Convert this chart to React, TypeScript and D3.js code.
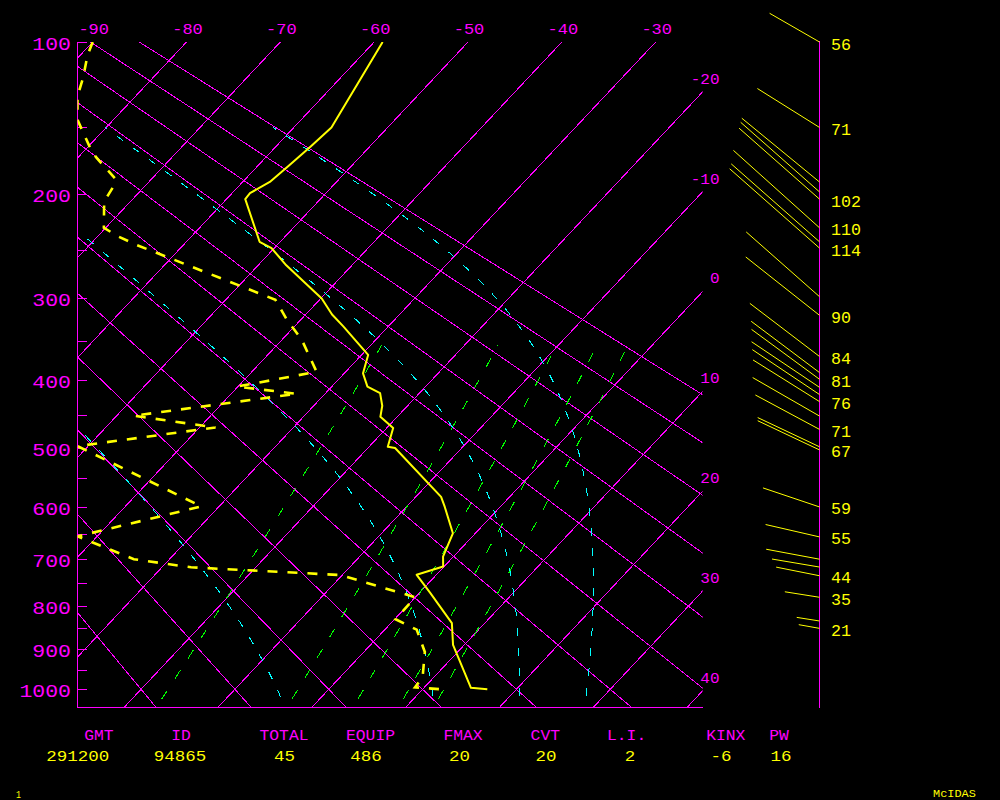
import React from "react";
import * as d3 from "d3";

// ---------------- data ----------------
const pressureLabels = [100, 200, 300, 400, 500, 600, 700, 800, 900, 1000];
const pressureTickLevels = [100, 150, 200, 250, 300, 350, 400, 450, 500, 550, 600, 650, 700, 750, 800, 850, 900, 950, 1000];
const isothermValues = [-90, -80, -70, -60, -50, -40, -30, -20, -10, 0, 10, 20, 30, 40];
const topLabelTemps = [-90, -80, -70, -60, -50, -40, -30];
const rightLabelTemps = [-20, -10, 0, 10, 20, 30, 40];
const dryAdiabatThetas = [-20, -10, 0, 10, 20, 30, 40, 50, 60, 70, 80, 90];
const mixingRatioValues = [1, 3, 5, 7, 9];
const moistAdiabatT1000 = [-5.5, 11, 20.3, 27.5];

// temperature sounding (hPa, degC)
const tempP = [100, 150, 163, 177, 190, 199, 204, 242, 248, 265, 300, 318, 332, 367, 391, 409, 418, 436, 452, 469, 498, 500, 582, 600, 649, 695, 715, 732, 771, 838, 889, 996, 1000];
const tempT = [-59.1, -56.0, -56.3, -56.7, -57.1, -58.1, -58.0, -52.2, -50.3, -47.0, -39.9, -37.2, -34.8, -29.3, -28.0, -26.2, -24.2, -22.7, -21.8, -19.3, -18.0, -17.1, -7.3, -5.9, -2.4, -1.1, -0.1, -2.1, 1.2, 6.5, 8.8, 15.0, 16.9];

// dewpoint sounding (hPa, degC)
const dewP = [100, 107, 119.5, 130, 145, 164.5, 171, 187, 194, 206, 229, 237, 245, 301.5, 324, 348, 389, 409, 419, 450.5, 468, 497, 599, 655, 700, 716.5, 732.5, 780, 829, 853, 906, 969, 995, 1000];
const dewT = [-90, -89.2, -87.4, -86.2, -87, -79.6, -78.1, -74.0, -73.3, -72.8, -70.2, -67.8, -65.0, -44.7, -41.5, -37.9, -33.1, -40.1, -33.0, -48.2, -38.3, -51.5, -31.9, -43, -33.8, -26.9, -10.2, 0.0, 0.1, 3.4, 6.5, 8.8, 9.0, 12.0];

// winds (hPa, direction deg, speed)
const windP = [100, 150, 190, 198, 204, 229, 242, 248, 298, 319, 369, 390, 399, 410, 420, 430, 451, 471, 498, 503, 600, 656, 700, 716, 734, 780, 833, 850];
const windDir = [297, 299, 306, 308, 308, 308.5, 308, 308, 308, 305, 304, 303.6, 303, 300.7, 300.6, 299, 297, 295.4, 292.7, 292.7, 286.6, 281.5, 279.4, 278.5, 280, 278, 278, 279];
const windSpd = [56, 71, 96, 100, 102, 110, 112, 114, 93, 90, 84, 82, 81, 79, 78, 76, 75, 71, 67, 67, 59, 55, 54, 48, 44, 35, 23, 21];

const statHeaders = ["GMT", "ID", "TOTAL", "EQUIP", "FMAX", "CVT", "L.I.", "KINX", "PW"];
const statValues = ["291200", "94865", "45", "486", "20", "20", "2", "-6", "16"];

// ---------------- layout ----------------
const W = 1000, H = 800;
const LEFT = 77.5, RIGHT = 702.5, TOP = 42, BOTTOM = 707.5;
const KAPPA = 0.2857;
const SKEW = 0.94;
const WIND_X = 819.5;
const headerX = [98.9, 181, 284, 370.5, 463, 545.3, 626.6, 725.8, 779];
const valueX = [77.8, 180, 284.5, 366, 459.5, 546, 630, 721, 781];

const MAG = "#ff00ff", YEL = "#ffff00", CYA = "#00ffff", GRN = "#00ff00";
const FONT = "'Liberation Mono', 'DejaVu Sans Mono', monospace";

const yScale = d3.scalePow().exponent(KAPPA).domain([100, 1000]).range([42, 689.3]);
const tScale = d3.scaleLinear().domain([-90, -30]).range([92.7, 655.7]);
const xOf = (T: number, p: number) => tScale(T) - SKEW * (yScale(p) - TOP);
const line = d3.line<[number, number]>();

function satVap(Tc: number) {
  return 6.112 * Math.exp((17.67 * Tc) / (Tc + 243.5));
}
function dewFromMix(w: number, p: number) {
  const e = (w * p) / (622 + w);
  const l = Math.log(e / 6.112);
  return (243.5 * l) / (17.67 - l);
}
function moistRate(p: number, Tk: number) {
  const Rd = 287.04, Cp = 1005.7, Lv = 2.39e6, eps = 0.622;
  const es = satVap(Tk - 273.15);
  const rs = (eps * es) / (p - es);
  return (Rd * Tk + Lv * rs) / (p * (Cp + (Lv * Lv * rs * eps) / (Rd * Tk * Tk)));
}
function moistCurve(T1000: number): [number, number][] {
  const up: [number, number][] = [];
  let T = T1000 + 273.15;
  for (let p = 1000; p > 150; p -= 1) {
    up.push([p, T - 273.15]);
    const k1 = moistRate(p, T);
    const k2 = moistRate(p - 0.5, T - 0.5 * k1);
    T = T - k2;
  }
  up.push([150, T - 273.15]);
  const down: [number, number][] = [];
  T = T1000 + 273.15;
  for (let p = 1000; p < 1070; p += 1) {
    const k1 = moistRate(p, T);
    const k2 = moistRate(p + 0.5, T + 0.5 * k1);
    T = T + k2;
    down.push([p + 1, T - 273.15]);
  }
  return [...down.reverse(), ...up];
}

const Txt = (props: any) => (
  <text
    x={props.x}
    y={props.y}
    textAnchor={props.anchor || "start"}
    fontSize={props.size}
    fill={props.fill}
    fontFamily={FONT}
    textLength={props.len}
    lengthAdjust="spacingAndGlyphs"
  >
    {props.children}
  </text>
);

export default function App() {
  const isoPaths = isothermValues.map((T) =>
    line([[xOf(T, 100), yScale(100)], [xOf(T, 1100), yScale(1100)]])
  );
  const dryPaths = dryAdiabatThetas.map((th) => {
    const Tp = (p: number) => (th + 273.15) * Math.pow(p / 1000, KAPPA) - 273.15;
    return line([[xOf(Tp(60), 60), yScale(60)], [xOf(Tp(1100), 1100), yScale(1100)]]);
  });
  const mixPaths = mixingRatioValues.map((w) =>
    line(d3.range(1025, 354, -5).map((p) => [xOf(dewFromMix(w, p), p), yScale(p)] as [number, number]))
  );
  const moistPaths = moistAdiabatT1000.map((t0) =>
    line(moistCurve(t0).map(([p, T]) => [xOf(T, p), yScale(p)] as [number, number]))
  );
  const tempPath = line(tempP.map((p, i) => [xOf(tempT[i], p), yScale(p)] as [number, number]));
  const dewPath = line(dewP.map((p, i) => [Math.max(LEFT, xOf(dewT[i], p)), yScale(p)] as [number, number]));

  // winds
  const sticks = windP.map((p, i) => {
    const y = yScale(p);
    const a = (windDir[i] * Math.PI) / 180;
    return {
      x1: WIND_X + windSpd[i] * Math.sin(a),
      y1: y - windSpd[i] * Math.cos(a) * 1.13,
      y,
    };
  });
  // label selection bottom-up with minimum spacing
  const order = windP.map((_, i) => i).sort((a, b) => sticks[b].y - sticks[a].y);
  const labeled: number[] = [];
  let lastY = Infinity;
  order.forEach((i) => {
    if (lastY - sticks[i].y >= 19.5) {
      labeled.push(i);
      lastY = sticks[i].y;
    }
  });

  return (
    <svg
      width={W}
      height={H}
      style={{ position: "absolute", left: 0, top: 0, background: "#000", display: "block" }}
    >
      <rect x={0} y={0} width={W} height={H} fill="#000" />
      <defs>
        <clipPath id="plotClip">
          <rect x={LEFT} y={TOP} width={RIGHT - LEFT} height={BOTTOM - TOP} />
        </clipPath>
      </defs>

      <g clipPath="url(#plotClip)" fill="none" shapeRendering="crispEdges">
        {isoPaths.map((d, i) => (
          <path key={"iso" + i} d={d!} stroke={MAG} strokeWidth={1} />
        ))}
        {dryPaths.map((d, i) => (
          <path key={"dry" + i} d={d!} stroke={MAG} strokeWidth={1} />
        ))}
        {mixPaths.map((d, i) => (
          <path key={"mix" + i} d={d!} stroke={GRN} strokeWidth={1} strokeDasharray="10,14" />
        ))}
        {moistPaths.map((d, i) => (
          <path key={"moist" + i} d={d!} stroke={CYA} strokeWidth={1} strokeDasharray="8,12" />
        ))}
      </g>

      {/* axes */}
      <g shapeRendering="crispEdges" stroke={MAG} strokeWidth={1}>
        <line x1={LEFT} x2={LEFT} y1={TOP} y2={BOTTOM} />
        <line x1={LEFT} x2={RIGHT} y1={BOTTOM} y2={BOTTOM} />
        {pressureTickLevels.map((p) => (
          <line key={"tk" + p} x1={LEFT} x2={LEFT + 9} y1={Math.round(yScale(p)) + 0.5} y2={Math.round(yScale(p)) + 0.5} />
        ))}
        <line x1={WIND_X} x2={WIND_X} y1={yScale(100) - 1} y2={BOTTOM} />
      </g>

      {/* soundings */}
      <g fill="none" clipPath="url(#plotClip)">
        <path d={dewPath!} stroke={YEL} strokeWidth={2.6} strokeDasharray="10,10" />
        <path d={tempPath!} stroke={YEL} strokeWidth={2} strokeLinejoin="round" />
      </g>

      {/* wind sticks */}
      <g stroke={YEL} strokeWidth={1}>
        {sticks.map((s, i) => (
          <line key={"w" + i} x1={s.x1} y1={s.y1} x2={WIND_X} y2={s.y} />
        ))}
      </g>
      {labeled.map((i) => {
        const txt = String(Math.round(windSpd[i]));
        return (
          <Txt key={"wl" + i} x={831} y={sticks[i].y + 7.5} size={16} fill={YEL} len={txt.length * 10}>
            {txt}
          </Txt>
        );
      })}

      {/* pressure labels */}
      {pressureLabels.map((p) => {
        const s = String(p);
        return (
          <Txt key={"pl" + p} x={71} y={yScale(p) + 8} anchor="end" size={18} fill={MAG} len={s.length * 12.9}>
            {s}
          </Txt>
        );
      })}

      {/* isotherm labels */}
      {topLabelTemps.map((T) => {
        const s = String(T);
        return (
          <Txt key={"tl" + T} x={tScale(T) + 1} y={33.5} anchor="middle" size={15} fill={MAG} len={s.length * 10.2}>
            {s}
          </Txt>
        );
      })}
      {rightLabelTemps.map((T) => {
        const s = String(T);
        const yEdge = TOP + (tScale(T) - RIGHT) / SKEW;
        return (
          <Txt key={"rl" + T} x={719.5} y={yEdge - 8.3} anchor="end" size={15} fill={MAG} len={s.length * 9.6}>
            {s}
          </Txt>
        );
      })}

      {/* stats */}
      {statHeaders.map((h, i) => (
        <Txt key={"sh" + i} x={headerX[i]} y={740} anchor="middle" size={15} fill={MAG} len={h.length * 9.8}>
          {h}
        </Txt>
      ))}
      {statValues.map((v, i) => (
        <Txt key={"sv" + i} x={valueX[i]} y={760.7} anchor="middle" size={15} fill={YEL} len={v.length * 10.5}>
          {v}
        </Txt>
      ))}
      <Txt x={16} y={797.5} size={11} fill={YEL} len={5}>
        1
      </Txt>
      <Txt x={933} y={797.3} size={11} fill={YEL} len={42.8}>
        McIDAS
      </Txt>
    </svg>
  );
}
